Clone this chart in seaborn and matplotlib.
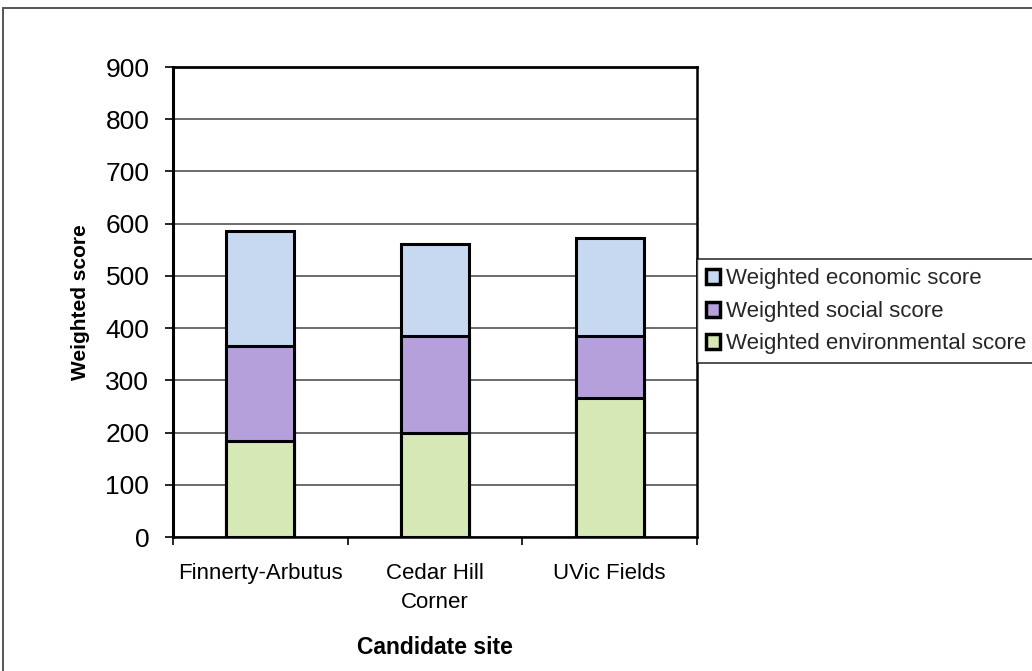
import matplotlib
matplotlib.use("Agg")
import matplotlib.pyplot as plt
import matplotlib.patches as mpatches
import numpy as np
import pandas as pd
import seaborn as sns

# Candidate sites and weighted scores for each criterion
sites = ["Finnerty-Arbutus", "Cedar Hill\nCorner", "UVic Fields"]
environmental = [183, 200, 266]
social = [183, 184, 118]
economic = [220, 178, 188]

series_names = ["Weighted economic score", "Weighted social score",
                "Weighted environmental score"]
colors = {"economic": "#c6d9f1", "social": "#b6a0dc", "environmental": "#d5e8b5"}
y_ticks = list(range(0, 1000, 100))

sns.set_theme(style="white")
plt.rcParams["font.family"] = ["Liberation Sans", "DejaVu Sans"]

fig = plt.figure(figsize=(10.32, 6.71), dpi=100)
ax = fig.add_axes([0.1676, 0.1997, 0.5078, 0.7004])

env = np.array(environmental)
soc = np.array(social)
eco = np.array(economic)
df = pd.DataFrame({
    "site": sites,
    "total": env + soc + eco,
    "env_soc": env + soc,
    "env": env,
})

# Stacked bars: draw cumulative heights from the top layer down
layers = [("total", colors["economic"]),
          ("env_soc", colors["social"]),
          ("env", colors["environmental"])]
for col, c in layers:
    sns.barplot(data=df, x="site", y=col, color=c, width=0.39,
                edgecolor="black", linewidth=2.2, saturation=1, ax=ax,
                zorder=3)

ax.set_xlim(-0.5, 2.5)
ax.set_ylim(0, 900)
ax.set_yticks(y_ticks)
ax.yaxis.grid(True, color="#444444", linewidth=1.1, zorder=0)
ax.xaxis.grid(False)
ax.set_axisbelow(True)

for side in ["left", "right", "top", "bottom"]:
    ax.spines[side].set_visible(True)
    ax.spines[side].set_color("black")
ax.spines["left"].set_linewidth(2.2)
ax.spines["top"].set_linewidth(2.0)
ax.spines["right"].set_linewidth(1.8)
ax.spines["bottom"].set_linewidth(1.8)

ax.tick_params(axis="y", which="major", direction="out", length=6, width=1.2,
               color="black", left=True, pad=11, labelsize=19,
               labelcolor="black")
# Category boundary ticks on the x axis, labels at centres
ax.set_xticks([-0.5, 0.5, 1.5, 2.5], minor=True)
ax.tick_params(axis="x", which="minor", direction="out", length=6, width=1.2,
               color="black", bottom=True)
ax.tick_params(axis="x", which="major", length=0, pad=19, labelsize=16,
               labelcolor="black")
for lbl in ax.get_xticklabels():
    lbl.set_linespacing(1.5)

ax.set_xlabel("Candidate site", fontsize=16.5, fontweight="bold",
              labelpad=16, color="black")
ax.set_ylabel("Weighted score", fontsize=15, fontweight="bold",
              labelpad=11, color="black")

handles = [mpatches.Patch(facecolor=colors["economic"], edgecolor="black",
                          linewidth=2.5),
           mpatches.Patch(facecolor=colors["social"], edgecolor="black",
                          linewidth=2.5),
           mpatches.Patch(facecolor=colors["environmental"], edgecolor="black",
                          linewidth=2.5)]
leg = ax.legend(handles, series_names, loc="center left",
                bbox_to_anchor=(1.0, 0.48), fontsize=16, frameon=True,
                fancybox=False, edgecolor="black", handlelength=0.65,
                handleheight=0.65, handletextpad=0.25, labelspacing=0.52,
                borderpad=0.4, borderaxespad=0.0)
leg.get_frame().set_linewidth(1.2)

# Outer chart border
fig.patches.append(mpatches.Rectangle((0.003, -0.05), 1.2, 1.038,
                                      transform=fig.transFigure,
                                      fill=False, edgecolor="#555555",
                                      linewidth=1.4))

fig.savefig("out.png", dpi=100)
